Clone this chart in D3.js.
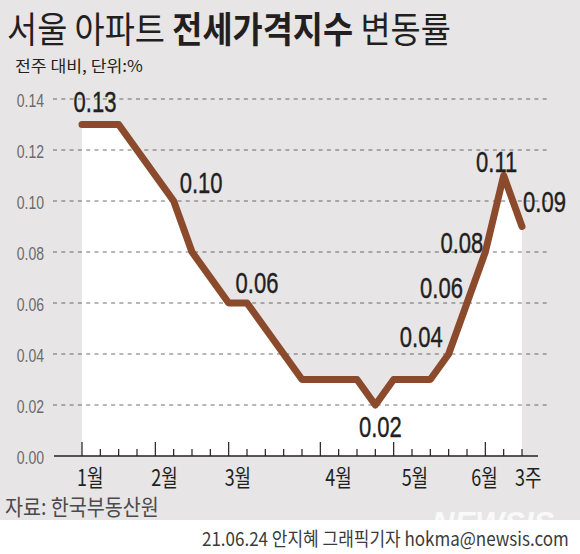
<!DOCTYPE html>
<html><head><meta charset="utf-8">
<script src="https://cdn.jsdelivr.net/npm/d3@7"></script>
<style>html,body{margin:0;padding:0;background:#fff}svg{display:block}</style>
</head><body>
<script>
// ---- data ----
const weeks = [
  "1월 1주","1월 2주","1월 3주","1월 4주",
  "2월 1주","2월 2주","2월 3주","2월 4주",
  "3월 1주","3월 2주","3월 3주","3월 4주","3월 5주",
  "4월 1주","4월 2주","4월 3주","4월 4주",
  "5월 1주","5월 2주","5월 3주","5월 4주","5월 5주",
  "6월 1주","6월 2주","6월 3주"];
const values = [0.13,0.13,0.13,0.12,0.11,0.10,0.08,0.07,0.06,0.06,0.05,0.04,0.03,
                0.03,0.03,0.03,0.02,0.03,0.03,0.03,0.04,0.06,0.08,0.11,0.09];
const labeledWeeks = ["1월 1주","2월 2주","3월 2주","4월 4주","5월 4주","5월 5주","6월 1주","6월 2주","6월 3주"];
const yTicks = [0,0.02,0.04,0.06,0.08,0.10,0.12,0.14];
const monthTickWeeks = ["1월 1주","2월 1주","3월 1주","4월 1주","5월 1주","6월 1주"];
const xLabelWeeks = ["1월 1주","2월 1주","3월 1주","4월 1주","5월 1주","6월 1주","6월 3주"];
const xLabels = ["1월","2월","3월","4월","5월","6월","3주"];
const title1 = "서울 아파트 ", titleBold = "전세가격지수", title2 = " 변동률";
const subtitle = "전주 대비, 단위:%";
const source = "자료: 한국부동산원";
const credit = "21.06.24 안지혜 그래픽기자 hokma@newsis.com";

// ---- layout ----
const W = 580, H = 554;
const KR = "'Noto Sans CJK KR','Noto Sans',sans-serif";
const LAT = "'Liberation Sans',Arial,sans-serif";
const svg = d3.select("body").append("svg").attr("width", W).attr("height", H);

svg.append("rect").attr("width", W).attr("height", 520).attr("fill", "#e7e5e6");

const x = d3.scalePoint().domain(weeks).range([82, 522]);
const y = d3.scaleLinear().domain([0, 0.14]).range([456, 99]);

function fitText(sel, tx, ty, targetW) {
  const L = sel.node().getComputedTextLength();
  sel.attr("transform", `translate(${tx},${ty}) scale(${targetW / L},1)`);
  return sel;
}
function squeeze(sel, tx, ty, k) {
  return sel.attr("transform", `translate(${tx},${ty}) scale(${k},1)`);
}

// title
const t = svg.append("text").attr("font-family", KR).attr("font-size", 36).attr("fill", "#231f20");
t.append("tspan").text(title1).attr("font-weight", 400);
t.append("tspan").text(titleBold).attr("font-weight", 700);
t.append("tspan").text(title2).attr("font-weight", 400);
fitText(t, 7, 43, 444);

fitText(svg.append("text").attr("font-family", KR).attr("font-size", 16).attr("fill", "#231f20").text(subtitle), 15, 72, 128);

// area under line
svg.append("path")
  .attr("fill", "#ffffff")
  .attr("d", d3.area().x(w => x(w)).y0(y(0)).y1((w, i) => y(values[i]))(weeks));

// gridlines
svg.append("g").selectAll("line").data(yTicks.filter(v => v > 0)).join("line")
  .attr("x1", 53).attr("x2", 548)
  .attr("y1", d => y(d)).attr("y2", d => y(d))
  .attr("stroke", "#4a4a4a").attr("stroke-width", 0.8).attr("stroke-dasharray", "4,4.3");

// y labels
svg.append("g").selectAll("text").data(yTicks).join("text")
  .attr("font-family", LAT).attr("font-size", 18).attr("fill", "#6a6a6c")
  .attr("text-anchor", "end").attr("dominant-baseline", "central")
  .text(d => d3.format(".2f")(d))
  .each(function (d) { squeeze(d3.select(this), 44, y(d) + 1, 0.78); });

// x axis
svg.append("line").attr("x1", 54).attr("x2", 538).attr("y1", y(0)).attr("y2", y(0))
  .attr("stroke", "#231f20").attr("stroke-width", 1.3);
svg.append("g").selectAll("line").data(weeks).join("line")
  .attr("x1", d => x(d)).attr("x2", d => x(d))
  .attr("y1", y(0)).attr("y2", d => y(0) - (monthTickWeeks.includes(d) ? 14 : 7))
  .attr("stroke", "#231f20").attr("stroke-width", 1.2);

const xLabelDx = [-5, -4, -4, 5, 8, -14, -7];
svg.append("g").selectAll("text").data(xLabels).join("text")
  .attr("font-family", KR).attr("font-size", 23).attr("fill", "#231f20")
  .text(d => d)
  .each(function (d, i) { squeeze(d3.select(this), x(xLabelWeeks[i]) + xLabelDx[i], 486, 0.78); });

// line
svg.append("path")
  .attr("fill", "none").attr("stroke", "#8c4a2d").attr("stroke-width", 7)
  .attr("stroke-linecap", "round").attr("stroke-linejoin", "round")
  .attr("d", d3.line().x(w => x(w)).y((w, i) => y(values[i]))(weeks));

// value labels
const place = {
  "1월 1주": [13, -13, "middle"],
  "2월 2주": [6, -8, "start"],
  "3월 2주": [10, -10, "middle"],
  "4월 4주": [5, 32, "middle"],
  "5월 4주": [-6, -7, "end"],
  "5월 5주": [-4, -5, "end"],
  "6월 1주": [-2, 1, "end"],
  "6월 2주": [-7, -4, "middle"],
  "6월 3주": [1, -15, "start"]
};
svg.append("g").selectAll("text").data(labeledWeeks).join("text")
  .attr("font-family", LAT).attr("font-size", 29).attr("fill", "#231f20")
  .attr("stroke", "#231f20").attr("stroke-width", 0.4)
  .attr("text-anchor", d => place[d][2])
  .text(d => d3.format(".2f")(values[weeks.indexOf(d)]))
  .each(function (d) {
    const v = values[weeks.indexOf(d)];
    squeeze(d3.select(this), x(d) + place[d][0], y(v) + place[d][1], 0.76);
  });

// source
fitText(svg.append("text").attr("font-family", KR).attr("font-size", 22).attr("fill", "#4a4a4c").text(source), 5, 515, 154);

// watermark
svg.append("text").attr("font-family", LAT).attr("font-size", 31).attr("font-weight", 700)
  .attr("font-style", "italic").attr("fill", "#ffffff").attr("opacity", 0.8)
  .text("NEWSIS").attr("x", 432).attr("y", 534);

// credit
fitText(svg.append("text").attr("font-family", KR).attr("font-size", 19).attr("fill", "#3a3a3c").text(credit), 202, 546, 367);
</script>
</body></html>
